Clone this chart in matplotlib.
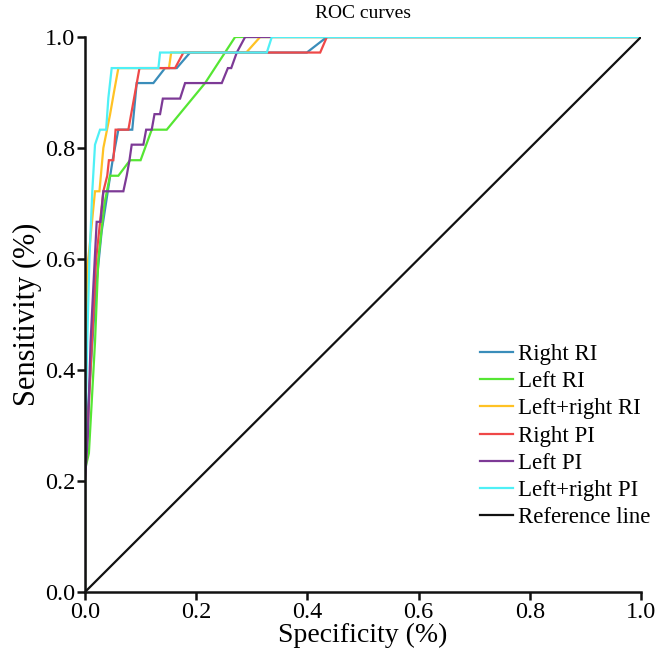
import matplotlib
matplotlib.use("Agg")
import matplotlib.pyplot as plt

plt.rcParams['font.family'] = ['Liberation Serif', 'DejaVu Serif']

# ---- data (fpr, tpr) ----
right_ri_x = [0, 0, 0.01, 0.02, 0.03, 0.041, 0.05, 0.06, 0.085, 0.093, 0.123, 0.144, 0.165, 0.189, 0.399, 0.435, 1.0]
right_ri_y = [0, 0.25, 0.40, 0.55, 0.65, 0.722, 0.78, 0.833, 0.833, 0.917, 0.917, 0.944, 0.944, 0.972, 0.972, 1.0, 1.0]

left_ri_x = [0, 0, 0.007, 0.018, 0.024, 0.035, 0.045, 0.06, 0.081, 0.10, 0.12, 0.147, 0.216, 0.27, 1.0]
left_ri_y = [0, 0.22, 0.25, 0.45, 0.60, 0.70, 0.75, 0.75, 0.778, 0.778, 0.833, 0.833, 0.917, 1.0, 1.0]

lr_ri_x = [0, 0, 0.004, 0.008, 0.018, 0.026, 0.033, 0.045, 0.052, 0.06, 0.151, 0.155, 0.29, 0.315, 1.0]
lr_ri_y = [0, 0.30, 0.583, 0.62, 0.722, 0.722, 0.80, 0.86, 0.90, 0.944, 0.944, 0.972, 0.972, 1.0, 1.0]

right_pi_x = [0, 0, 0.005, 0.01, 0.015, 0.02, 0.033, 0.04, 0.043, 0.051, 0.055, 0.078, 0.098, 0.162, 0.177, 0.423, 0.435, 1.0]
right_pi_y = [0, 0.20, 0.30, 0.40, 0.50, 0.60, 0.722, 0.75, 0.778, 0.778, 0.833, 0.833, 0.944, 0.944, 0.972, 0.972, 1.0, 1.0]

left_pi_x = [0, 0, 0.005, 0.01, 0.015, 0.021, 0.028, 0.033, 0.069, 0.075, 0.08, 0.084, 0.105, 0.11, 0.12, 0.125, 0.135, 0.14, 0.171, 0.18, 0.246, 0.257, 0.263, 0.273, 0.288, 1.0]
left_pi_y = [0, 0.20, 0.28, 0.45, 0.55, 0.667, 0.667, 0.722, 0.722, 0.75, 0.778, 0.806, 0.806, 0.833, 0.833, 0.861, 0.861, 0.889, 0.889, 0.917, 0.917, 0.944, 0.944, 0.972, 1.0, 1.0]

lr_pi_x = [0, 0, 0.004, 0.008, 0.013, 0.018, 0.027, 0.038, 0.042, 0.048, 0.132, 0.135, 0.327, 0.336, 1.0]
lr_pi_y = [0, 0.25, 0.45, 0.60, 0.72, 0.806, 0.833, 0.833, 0.89, 0.944, 0.944, 0.972, 0.972, 1.0, 1.0]

ref_x = [0, 1]
ref_y = [0, 1]

labels = ["Right RI", "Left RI", "Left+right RI", "Right PI", "Left PI", "Left+right PI", "Reference line"]
colors = ["#3a8dba", "#55e633", "#ffc224", "#ef4848", "#7d3a96", "#4ff0f6", "#111111"]
series = [(right_ri_x, right_ri_y), (left_ri_x, left_ri_y), (lr_ri_x, lr_ri_y),
          (right_pi_x, right_pi_y), (left_pi_x, left_pi_y), (lr_pi_x, lr_pi_y), (ref_x, ref_y)]

ticks = [0.0, 0.2, 0.4, 0.6, 0.8, 1.0]
tick_labels = ["0.0", "0.2", "0.4", "0.6", "0.8", "1.0"]

fig = plt.figure(figsize=(6.55, 6.54), dpi=100)
ax = fig.add_axes([85/655, 62/654, 556/655, 555/654])

for (x, y), c, lab in zip(series, colors, labels):
    ax.plot(x, y, color=c, lw=1.6, label=lab, solid_joinstyle='miter')

ax.set_xlim(0, 1)
ax.set_ylim(0, 1)
ax.set_xticks(ticks)
ax.set_xticklabels(tick_labels)
ax.set_yticks(ticks)
ax.set_yticklabels(tick_labels)
for s in ['top', 'right']:
    ax.spines[s].set_visible(False)
for s in ['left', 'bottom']:
    ax.spines[s].set_linewidth(1.8)
    ax.spines[s].set_color('#111111')
ax.tick_params(direction='out', length=6, width=1.8, labelsize=17.5, pad=1, color='#111111')

ax.set_xlabel("Specificity (%)", fontsize=20, labelpad=0)
ax.set_ylabel("Sensitivity (%)", fontsize=22, labelpad=2)
ax.set_title("ROC curves", fontsize=14, pad=14)

ax.legend(loc='upper left', bbox_to_anchor=(0.71, 0.447), frameon=False,
          fontsize=16.5, borderpad=0, borderaxespad=0, handlelength=1.45,
          handletextpad=0.2, labelspacing=0.27)

fig.savefig("out.png", dpi=100)
